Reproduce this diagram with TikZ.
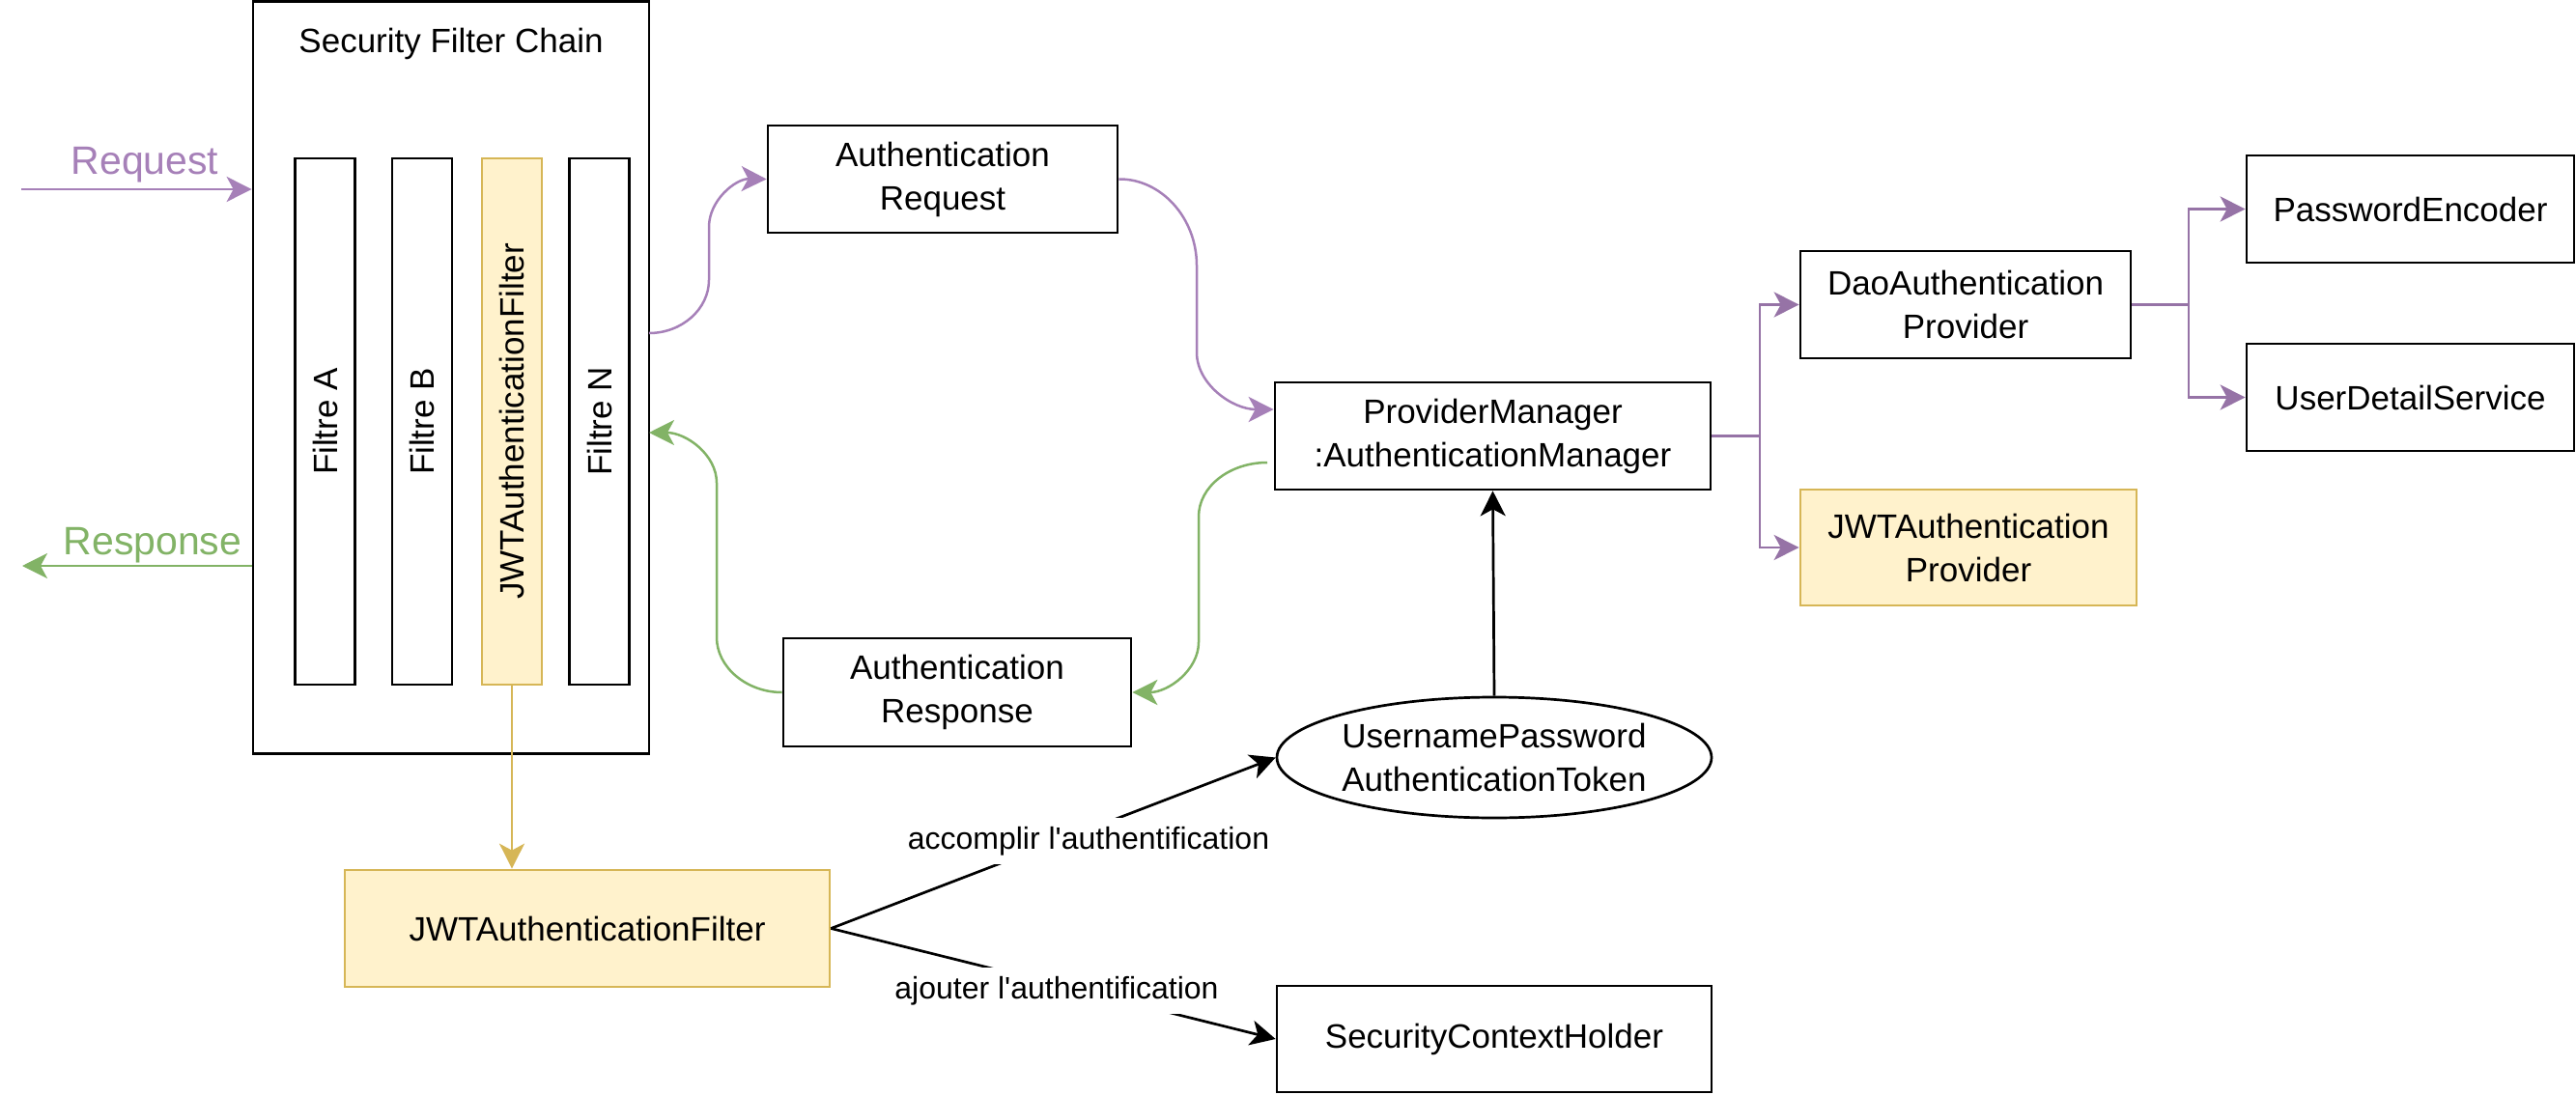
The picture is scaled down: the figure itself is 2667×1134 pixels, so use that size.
\documentclass[tikz,border=0pt]{standalone}
\usepackage{fontspec}
\setmainfont{Liberation Sans}
\usetikzlibrary{arrows.meta,shapes.geometric,calc}
\definecolor{purp}{HTML}{A680B8}
\definecolor{purpd}{HTML}{9673A6}
\definecolor{grn}{HTML}{82B366}
\definecolor{yelf}{HTML}{FFF2CC}
\definecolor{yels}{HTML}{D6B656}
\begin{document}
\begin{tikzpicture}[x=1pt,y=-1pt,
  box/.style={draw=black, line width=2.7pt, fill=white, align=center, inner sep=0pt, font=\fontsize{35}{45}\selectfont},
  ybox/.style={box, draw=yels, fill=yelf},
  bar/.style={rotate=90, minimum width=545pt, minimum height=62pt},
  tip/.style={-{Stealth[length=26pt,width=26pt,inset=7pt]}},
  pline/.style={tip, draw=purp, line width=2.5pt},
  pdline/.style={tip, draw=purpd, line width=2.5pt},
  gline/.style={tip, draw=grn, line width=2.5pt},
  bline/.style={tip, draw=black, line width=2.7pt},
  yline/.style={tip, draw=yels, line width=2.2pt},
  lbl/.style={fill=white, inner xsep=2pt, inner ysep=9pt, font=\fontsize{32}{38}\selectfont},
  big/.style={inner sep=0pt, font=\fontsize{41}{48}\selectfont}
]
\useasboundingbox (0,0) rectangle (2667,1134);

% security filter chain
\node[box, minimum width=410pt, minimum height=779pt] (sfc) at (467,391) {};
\node[inner sep=0pt, font=\fontsize{35}{43}\selectfont] (sfctitle) at (467,45) {Security Filter Chain};
\node[box, bar] (fA) at (336.5,436.5) {Filtre A};
\node[box, bar] (fB) at (437,436.5) {Filtre B};
\node[ybox, bar] (fJ) at (530,436.5) {JWTAuthenticationFilter};
\node[box, bar] (fN) at (620.5,436.5) {Filtre N};

% boxes
\node[box, minimum width=362pt, minimum height=111pt] (areq) at (976,185.5) {Authentication\\Request};
\node[box, minimum width=360pt, minimum height=112pt] (aresp) at (991,717) {Authentication\\Response};
\node[box, minimum width=451pt, minimum height=111pt] (pm) at (1545.5,451.5) {ProviderManager\\:AuthenticationManager};
\node[box, minimum width=342pt, minimum height=111pt] (dao) at (2035,315.5) {DaoAuthentication\\Provider};
\node[ybox, minimum width=348pt, minimum height=120pt] (jwtp) at (2038,567) {JWTAuthentication\\Provider};
\node[box, minimum width=339pt, minimum height=111pt] (pe) at (2495.5,216.5) {PasswordEncoder};
\node[box, minimum width=339pt, minimum height=111pt] (uds) at (2495.5,411.5) {UserDetailService};
\node[box, ellipse, minimum width=450pt, minimum height=125pt] (tok) at (1547,784.5) {UsernamePassword\\AuthenticationToken};
\node[ybox, minimum width=502pt, minimum height=121pt] (jwtf) at (608,961.5) {JWTAuthenticationFilter};
\node[box, minimum width=450pt, minimum height=110pt] (sch) at (1547,1076) {SecurityContextHolder};

% request / response
\coordinate (reqs) at (22,196);
\coordinate (respe) at (23,586);
\node[big, text=purp] (reqlbl) at (150,171) {Request};
\node[big, text=grn] (resplbl) at (158,565) {Response};
\draw[pline] (reqs) -- (sfc.west |- reqs);
\draw[gline] (sfc.west |- respe) -- (respe);

% curved connectors
\coordinate (c1s) at (672,345);
\draw[pline] (c1s) .. controls (706,345) and (734,320) .. (734,290) -- (734,235)
  .. controls (734,207.5) and (761.5,185) .. (areq.west);
\draw[pline] (areq.east) .. controls (1202,185) and (1239,225.5) .. (1239,275) -- (1239,365)
  .. controls (1239,397.5) and (1275.5,424) .. (pm.west |- 0,424);
\coordinate (g1s) at (1312,479);
\draw[gline] (g1s) .. controls (1273,479) and (1241,504) .. (1241,535) -- (1241,665)
  .. controls (1241,694) and (1209.5,717) .. (aresp.east);
\coordinate (g2e) at (672,448);
\draw[gline] (aresp.west) .. controls (773,717) and (742,691) .. (742,660) -- (742,500)
  .. controls (742,471) and (710.5,448) .. (g2e);

% orthogonal purple connectors
\coordinate (t1) at (1822,451.5);
\coordinate (t2) at (2266,315.5);
\draw[purpd, line width=2.5pt] (pm.east) -- (t1);
\draw[pdline] (t1) |- (dao.west);
\draw[pdline] (t1) |- (jwtp.west);
\draw[purpd, line width=2.5pt] (dao.east) -- (t2);
\draw[pdline] (t2) |- (pe.west);
\draw[pdline] (t2) |- (uds.west);

% other connectors
\draw[bline] (tok.north) -- (pm.south);
\draw[yline] (fJ.west) -- (fJ.west |- jwtf.north);
\draw[bline] (jwtf.east) -- (tok.west);
\draw[bline] (jwtf.east) -- (sch.west);
\node[lbl] (l1) at (1127,871) {accomplir l\textquotesingle authentification};
\node[lbl] (l2) at (1094,1026) {ajouter l\textquotesingle authentification};
\end{tikzpicture}
\end{document}
